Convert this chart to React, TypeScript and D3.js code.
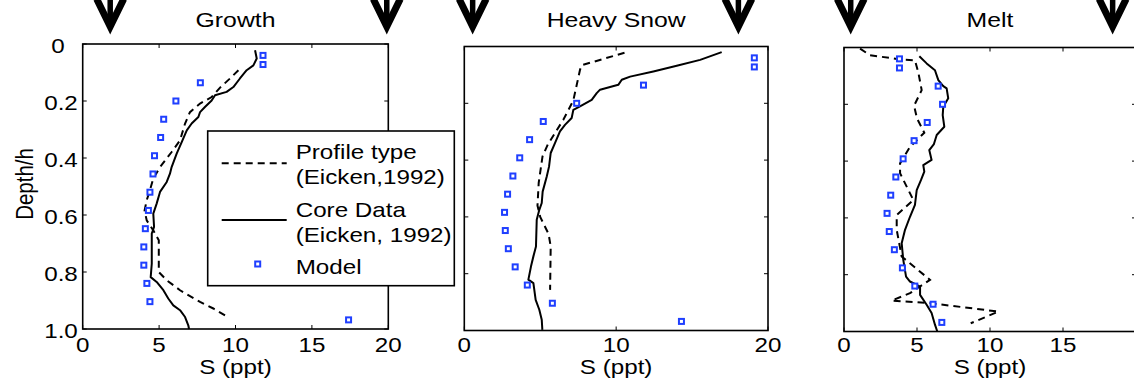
import React from 'react';
import * as d3 from 'd3';

// depth axis (fraction of ice thickness)
const depthTicks = [0, 0.2, 0.4, 0.6, 0.8, 1.0];
const depthTickLabels = ['0', '0.2', '0.4', '0.6', '0.8', '1.0'];

// model layer depths, same for all three panels
const modelDepth = [0.04, 0.072, 0.136, 0.2, 0.264, 0.328, 0.392, 0.456, 0.52, 0.584, 0.648, 0.712, 0.776, 0.84, 0.904, 0.968];

// --- Growth ---
const growthModel = [11.8, 11.8, 7.7, 6.1, 5.3, 5.1, 4.7, 4.6, 4.4, 4.3, 4.1, 4.0, 4.0, 4.2, 4.4, 17.4];
const growthCoreS = [11.28, 11.39, 11.17, 10.73, 10.29, 9.86, 9.42, 8.66, 8.44, 8.0, 7.68, 7.57, 7.13, 6.81, 6.48, 6.15, 5.82, 5.71, 5.5, 5.06, 4.84, 4.62, 4.67, 4.52, 4.52, 4.52, 4.45, 4.84, 5.28, 5.6, 5.93, 6.37, 6.7, 6.91, 6.96];
const growthCoreD = [0.022, 0.051, 0.075, 0.092, 0.121, 0.151, 0.168, 0.18, 0.198, 0.221, 0.239, 0.256, 0.279, 0.303, 0.344, 0.385, 0.432, 0.455, 0.484, 0.519, 0.56, 0.595, 0.642, 0.665, 0.712, 0.771, 0.818, 0.835, 0.864, 0.893, 0.917, 0.934, 0.958, 0.987, 1.0];
const growthTypeS = [10.19, 9.64, 8.99, 8.44, 7.68, 7.02, 6.7, 6.37, 5.82, 5.06, 4.62, 4.4, 4.19, 4.05, 4.19, 4.62, 4.98, 4.98, 4.98, 5.5, 6.37, 7.68, 8.55, 9.5];
const growthTypeD = [0.092, 0.121, 0.153, 0.186, 0.209, 0.239, 0.279, 0.338, 0.379, 0.432, 0.472, 0.513, 0.548, 0.584, 0.619, 0.654, 0.689, 0.735, 0.8, 0.829, 0.864, 0.905, 0.928, 0.958];
const growthArrows = [1.8, 19.9];

// --- Heavy Snow ---
const snowModel = [19.1, 19.1, 11.8, 7.4, 5.2, 4.3, 3.65, 3.2, 2.85, 2.65, 2.7, 2.9, 3.35, 4.15, 5.8, 14.3];
const snowCoreS = [16.95, 15.53, 13.99, 12.45, 10.92, 10.37, 10.14, 8.94, 8.72, 8.39, 7.62, 7.18, 7.07, 6.63, 6.3, 5.97, 5.69, 5.58, 5.43, 5.16, 5.1, 4.94, 4.77, 4.72, 4.55, 4.39, 4.22, 4.55, 4.7, 4.94, 5.1, 5.14];
const snowCoreD = [0.02, 0.047, 0.068, 0.088, 0.106, 0.117, 0.135, 0.152, 0.164, 0.188, 0.211, 0.223, 0.252, 0.276, 0.299, 0.34, 0.375, 0.423, 0.458, 0.511, 0.551, 0.575, 0.61, 0.704, 0.739, 0.775, 0.821, 0.833, 0.892, 0.927, 0.962, 0.998];
const snowTypeS = [10.55, 7.73, 7.62, 7.18, 6.52, 5.5, 5.15, 4.9, 4.82, 5.0, 5.55, 5.69, 5.65];
const snowTypeD = [0.022, 0.066, 0.082, 0.19, 0.258, 0.345, 0.387, 0.48, 0.56, 0.6, 0.66, 0.704, 0.857];
const snowArrows = [0.55, 18.05];

// --- Melt ---
const meltModel = [3.8, 3.8, 6.45, 6.75, 5.7, 4.8, 4.05, 3.55, 3.2, 2.95, 3.1, 3.45, 4.0, 4.85, 6.1, 6.7];
const meltCoreS = [5.16, 5.66, 6.23, 6.46, 6.8, 7.03, 7.14, 6.8, 6.76, 6.87, 6.35, 6.16, 5.84, 6.0, 5.43, 5.5, 5.27, 4.98, 4.86, 4.52, 4.18, 3.95, 4.06, 4.25, 4.52, 5.21, 5.21, 5.66, 6.0, 6.23, 6.39];
const meltCoreD = [0.031, 0.056, 0.08, 0.115, 0.136, 0.144, 0.179, 0.209, 0.238, 0.279, 0.308, 0.34, 0.361, 0.396, 0.414, 0.437, 0.467, 0.502, 0.554, 0.596, 0.642, 0.689, 0.748, 0.807, 0.824, 0.842, 0.871, 0.906, 0.935, 0.976, 1.0];
const meltTypeS = [1.1, 1.78, 3.84, 4.86, 5.1, 5.32, 4.8, 5.0, 5.5, 4.52, 3.84, 3.84, 4.75, 3.61, 3.61, 3.95, 5.89, 4.52, 3.27, 5.89, 10.57, 8.68];
const meltTypeD = [0.004, 0.027, 0.042, 0.045, 0.09, 0.15, 0.205, 0.25, 0.3, 0.35, 0.408, 0.443, 0.537, 0.59, 0.642, 0.736, 0.818, 0.865, 0.891, 0.9, 0.93, 0.971];
const meltArrows = [0.46, 18.4];

const legendLabels = [['Profile type', '(Eicken,1992)'], ['Core Data', '(Eicken, 1992)'], ['Model']];

const FONT = '"Liberation Sans", Arial, Helvetica, sans-serif';
const SX = 1.18; // the figure text is a bit wide
const BLUE = '#1f3fff';

type PanelDef = {
  title: string;
  left: number; right: number; top: number; bottom: number;
  xTicks: number[];
  yLabels: boolean;
  model: number[];
  coreS: number[]; coreD: number[];
  typeS: number[]; typeD: number[];
  arrows: number[];
};

const panels: PanelDef[] = [
  { title: 'Growth', left: 82.7, right: 388.3, top: 44, bottom: 329, xTicks: [0, 5, 10, 15, 20], yLabels: true,
    model: growthModel, coreS: growthCoreS, coreD: growthCoreD, typeS: growthTypeS, typeD: growthTypeD, arrows: growthArrows },
  { title: 'Heavy Snow', left: 464.3, right: 768, top: 46.5, bottom: 330.5, xTicks: [0, 10, 20], yLabels: false,
    model: snowModel, coreS: snowCoreS, coreD: snowCoreD, typeS: snowTypeS, typeD: snowTypeD, arrows: snowArrows },
  { title: 'Melt', left: 844, right: 1136, top: 47.5, bottom: 331.5, xTicks: [0, 5, 10, 15], yLabels: false,
    model: meltModel, coreS: meltCoreS, coreD: meltCoreD, typeS: meltTypeS, typeD: meltTypeD, arrows: meltArrows },
];

const Txt: React.FC<{ x: number; y: number; anchor?: string; size?: number; rotate?: boolean; children: React.ReactNode }> =
  ({ x, y, anchor = 'middle', size = 20.5, rotate = false, children }) => (
    <text
      transform={`translate(${x},${y}) scale(${SX},1)${rotate ? ' rotate(-90)' : ''}`}
      textAnchor={anchor as any}
      fontSize={size}
      fontFamily={FONT}
      fill="#000"
    >{children}</text>
  );

const Arrow: React.FC<{ x: number }> = ({ x }) => (
  <g stroke="#000" fill="none">
    <path d={`M${x},-2 L${x},26`} strokeWidth={5.5} />
    <path d={`M${x - 13.5},-1 L${x},26.5 L${x + 13.5},-1`} strokeWidth={7} strokeLinejoin="miter" />
  </g>
);

const Panel: React.FC<{ p: PanelDef }> = ({ p }) => {
  const x = d3.scaleLinear().domain([0, 20]).range([p.left, p.right]);
  const y = d3.scaleLinear().domain([0, 1]).range([p.top, p.bottom]);
  const line = d3.line<[number, number]>().x(d => x(d[0])).y(d => y(d[1]));
  const core = line(p.coreS.map((s, i) => [s, p.coreD[i]]));
  const type = line(p.typeS.map((s, i) => [s, p.typeD[i]]));
  const tl = 4;
  const cx = (p.left + p.right) / 2;

  return (
    <g>
      {p.arrows.map((a, i) => <Arrow key={i} x={x(a)} />)}
      <Txt x={cx} y={26.5} size={21}>{p.title}</Txt>

      {/* ticks, inward on all sides */}
      <g stroke="#000" strokeWidth={1}>
        {p.xTicks.map(t => (
          <g key={'x' + t}>
            <line x1={x(t)} x2={x(t)} y1={p.bottom} y2={p.bottom - tl} />
            <line x1={x(t)} x2={x(t)} y1={p.top} y2={p.top + tl} />
          </g>
        ))}
        {depthTicks.map(t => (
          <g key={'y' + t}>
            <line x1={p.left} x2={p.left + tl} y1={y(t)} y2={y(t)} />
            <line x1={p.right} x2={p.right - tl} y1={y(t)} y2={y(t)} />
          </g>
        ))}
      </g>
      <rect x={p.left} y={p.top} width={p.right - p.left} height={p.bottom - p.top} fill="none" stroke="#000" strokeWidth={1.6} />

      {p.xTicks.map(t => <Txt key={'xl' + t} x={x(t)} y={351.5}>{String(t)}</Txt>)}
      {p.yLabels && depthTicks.map((t, i) => (
        <Txt key={'yl' + t} x={i === 0 ? 58 : 61} y={y(t) + 8.5}>{depthTickLabels[i]}</Txt>
      ))}
      <Txt x={cx} y={374}>S (ppt)</Txt>

      <path d={type || ''} fill="none" stroke="#000" strokeWidth={2} strokeDasharray="7,5" />
      <path d={core || ''} fill="none" stroke="#000" strokeWidth={2} strokeLinejoin="round" />
      {p.model.map((s, i) => (
        <rect key={'m' + i} x={x(s) - 2.5} y={y(modelDepth[i]) - 2.5} width={5} height={5}
          fill="#fff" stroke={BLUE} strokeWidth={2} />
      ))}
    </g>
  );
};

const Legend: React.FC = () => {
  const bx = 207.7, by = 131, bw = 246.6, bh = 154.7;
  const lx1 = 221.7, lx2 = 286.7, tx = 295.7;
  return (
    <g>
      <rect x={bx} y={by} width={bw} height={bh} fill="#fff" stroke="#000" strokeWidth={1.6} />
      <line x1={lx1} x2={lx2} y1={163.3} y2={163.3} stroke="#000" strokeWidth={2} strokeDasharray="7,5" />
      <Txt x={tx} y={159.3} anchor="start">{legendLabels[0][0]}</Txt>
      <Txt x={tx} y={184.3} anchor="start">{legendLabels[0][1]}</Txt>
      <line x1={lx1} x2={lx2} y1={220} y2={220} stroke="#000" strokeWidth={2} />
      <Txt x={tx} y={216.7} anchor="start">{legendLabels[1][0]}</Txt>
      <Txt x={tx} y={241.7} anchor="start">{legendLabels[1][1]}</Txt>
      <rect x={257.7 - 2.5} y={264 - 2.5} width={5} height={5} fill="#fff" stroke={BLUE} strokeWidth={2} />
      <Txt x={tx} y={274} anchor="start">{legendLabels[2][0]}</Txt>
    </g>
  );
};

export default function App() {
  return (
    <svg width={1134} height={384} style={{ position: 'absolute', left: 0, top: 0, background: '#fff' }}>
      {panels.map(p => <Panel key={p.title} p={p} />)}
      <Txt x={33} y={184} rotate>Depth/h</Txt>
      <Legend />
    </svg>
  );
}
